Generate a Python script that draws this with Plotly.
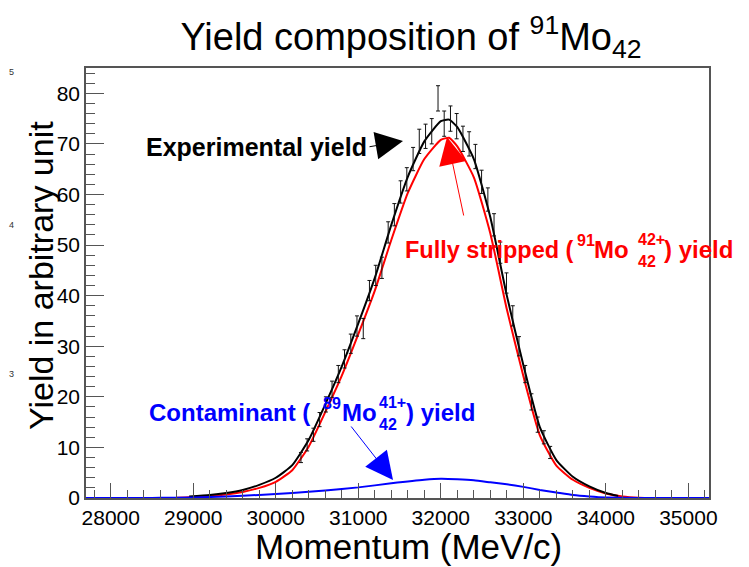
import plotly.graph_objects as go

# ---- measured yield per momentum bin (MeV/c) ----
mom_data = [30305, 30380, 30456, 30531, 30607, 30682, 30758, 30833, 30909, 30984,
            31060, 31135, 31211, 31286, 31362, 31437, 31513, 31588, 31664, 31739,
            31815, 31890, 31966, 32041, 32117, 32192, 32268, 32343, 32419, 32494,
            32570, 32645, 32721, 32796, 32872, 32947, 33023, 33098, 33174, 33249,
            33325]
yield_data = [8.0, 10.5, 12.5, 15.5, 18.5, 21.5, 24.5, 27.5, 30.5, 34.0,
              33.5, 41.0, 44.0, 45.5, 52.5, 56.0, 60.5, 63.0, 67.0, 70.5,
              71.5, 72.5, 79.0, 74.0, 75.0, 73.5, 71.0, 70.0, 67.5, 62.5,
              59.0, 54.0, 48.5, 42.5, 36.0, 30.0, 24.5, 19.0, 14.5, 12.0,
              9.0]
yield_err = [1.0, 1.2, 1.3, 1.4, 1.5, 1.6, 1.7, 1.8, 1.9, 2.0,
             2.0, 2.0, 2.0, 2.1, 2.1, 2.2, 2.2, 2.3, 2.3, 2.4,
             2.4, 2.5, 2.5, 2.5, 2.5, 2.5, 2.5, 2.4, 2.4, 2.3,
             2.3, 2.2, 2.1, 2.0, 2.0, 1.9, 1.7, 1.6, 1.5, 1.3,
             1.2]

# ---- fit: total yield ----
mom_total = [28950, 29200, 29400, 29600, 29800, 30000, 30200, 30400, 30600, 30800,
             31000, 31200, 31400, 31600, 31800, 32000, 32100, 32200, 32400, 32600,
             32800, 33000, 33200, 33400, 33600, 33800, 34000, 34150]
yield_total = [0.3, 0.6, 1.0, 1.6, 2.6, 4.0, 6.5, 11.5, 18.5, 26.0,
               34.5, 43.5, 54.0, 63.5, 70.5, 74.5, 74.8, 73.3, 67.0, 55.5,
               40.0, 26.3, 14.0, 7.5, 4.2, 2.3, 1.0, 0.4]

# ---- fit: fully stripped 91Mo(42+) component ----
mom_stripped = [28400, 28600, 28800, 29000, 29200, 29400, 29600, 29800, 30000, 30200,
                30400, 30600, 30800, 31000, 31200, 31400, 31600, 31800, 32000, 32100,
                32200, 32400, 32600, 32800, 33000, 33200, 33400, 33600, 33800, 34000,
                34200, 34400, 34600, 34800]
yield_stripped = [0.0, 0.0, 0.05, 0.2, 0.4, 0.7, 1.2, 2.0, 3.2, 5.5,
                  10.2, 17.0, 24.2, 32.4, 41.0, 51.0, 60.3, 67.0, 70.8, 71.2,
                  69.5, 63.4, 52.3, 37.3, 24.1, 12.4, 6.4, 3.6, 2.0, 0.9,
                  0.3, 0.05, 0.0, 0.0]

# ---- fit: contaminant 89Mo(41+) component ----
mom_contam = [27700, 28400, 28600, 29000, 29400, 29800, 30200, 30600, 31000, 31400,
              31800, 32000, 32200, 32400, 32600, 32800, 33000, 33200, 33400, 33600,
              33800, 34000, 34400, 35250]
yield_contam = [0.0, 0.0, 0.05, 0.1, 0.3, 0.6, 1.0, 1.5, 2.1, 2.9,
                3.6, 3.8, 3.7, 3.5, 3.1, 2.7, 2.2, 1.6, 1.1, 0.6,
                0.3, 0.1, 0.0, 0.0]

X_RANGE = [27700, 35250]
Y_RANGE = [0, 85]

# plot frame in page pixels
L, R, T, B = 86, 709, 68, 498
W, H = 749, 567
FONT = "Liberation Sans, Arial, Helvetica, sans-serif"
FRAME = "#555555"


def px_x(px):
    return X_RANGE[0] + (px - L) * (X_RANGE[1] - X_RANGE[0]) / (R - L)


def px_y(py):
    return (B - py) * (Y_RANGE[1] - Y_RANGE[0]) / (B - T)


def paper_x(px):
    return (px - L) / (R - L)


def paper_y(py):
    return (B - py) / (B - T)


fig = go.Figure()

fig.add_trace(go.Scatter(x=mom_stripped, y=yield_stripped, mode="lines",
                         line=dict(color="#ff0000", width=2, shape="spline", smoothing=0.5),
                         hoverinfo="skip"))
fig.add_trace(go.Scatter(x=mom_total, y=yield_total, mode="lines",
                         line=dict(color="#000000", width=2, shape="spline", smoothing=0.5),
                         hoverinfo="skip"))
fig.add_trace(go.Scatter(x=mom_contam, y=yield_contam, mode="lines",
                         line=dict(color="#0000ff", width=2, shape="spline", smoothing=0.5),
                         hoverinfo="skip"))
fig.add_trace(go.Scatter(x=mom_data, y=yield_data, mode="markers",
                         marker=dict(size=1, color="rgba(0,0,0,0)"),
                         error_y=dict(type="data", array=yield_err, color="#111111",
                                      thickness=1, width=2)))

ann = []


def text(px, py, s, size, color, bold=False):
    ann.append(dict(xref="paper", yref="paper", x=paper_x(px), y=paper_y(py),
                    xanchor="left", yanchor="middle", showarrow=False,
                    text=f"<b>{s}</b>" if bold else s,
                    font=dict(family=FONT, size=size, color=color)))


def arrow(tail, tip, color):
    ann.append(dict(xref="x", yref="y", axref="x", ayref="y",
                    x=px_x(tip[0]), y=px_y(tip[1]),
                    ax=px_x(tail[0]), ay=px_y(tail[1]),
                    text="", showarrow=True, arrowhead=2, arrowsize=5.5,
                    arrowwidth=1, arrowcolor=color))


# experimental label
text(144, 147, "Experimental yield", 25, "black", bold=True)
arrow((368, 147), (403, 141), "black")

# fully stripped label
RED = "#ff0000"
text(403, 250, "Fully stripped (", 23.5, RED, True)
text(575, 240, "91", 16, RED, True)
text(592, 250, "Mo", 24, RED, True)
text(636, 239, "42+", 16, RED, True)
text(636, 261, "42", 16, RED, True)
text(662, 250, ") yield", 24, RED, True)
arrow((464, 217), (447, 137), RED)

# contaminant label
BLUE = "#0000ff"
text(147, 412, "Contaminant (", 24, BLUE, True)
text(321, 403, "89", 16, BLUE, True)
text(340, 412, "Mo", 24, BLUE, True)
text(377, 402, "41+", 16, BLUE, True)
text(377, 424, "42", 16, BLUE, True)
text(404, 412, ") yield", 24, BLUE, True)
arrow((350, 425), (393, 480), BLUE)

# axis titles
ann.append(dict(xref="paper", yref="paper", x=paper_x(564), y=paper_y(546),
                xanchor="right", yanchor="middle", showarrow=False,
                text="Momentum (MeV/c)", font=dict(family=FONT, size=35, color="black")))
ann.append(dict(xref="paper", yref="paper", x=paper_x(41), y=paper_y(276),
                xanchor="center", yanchor="middle", showarrow=False, textangle=-90,
                text="Yield in arbitrary unit", font=dict(family=FONT, size=34, color="black")))

# small marks at the left edge
for py, s in [(72, "5"), (225, "4"), (374, "3")]:
    ann.append(dict(xref="paper", yref="paper", x=paper_x(11), y=paper_y(py),
                    xanchor="center", yanchor="middle", showarrow=False,
                    text=s, font=dict(family=FONT, size=9, color="#333333")))

fig.update_layout(
    width=W, height=H,
    margin=dict(l=L, r=W - R, t=T, b=H - B),
    paper_bgcolor="white", plot_bgcolor="white",
    showlegend=False,
    font=dict(family=FONT, color="black"),
    title=dict(text="Yield composition of <sup>91</sup>Mo<sub>42</sub>",
               xref="container", yref="container",
               x=411 / W, y=1 - 37 / H, xanchor="center", yanchor="middle",
               font=dict(family=FONT, size=38, color="black")),
    annotations=ann,
)

axis_common = dict(showline=True, linecolor=FRAME, linewidth=1.5, mirror=True,
                   showgrid=False, zeroline=False, ticks="inside", tickcolor=FRAME,
                   tickwidth=1, tickfont=dict(family=FONT, size=21, color="black"))

fig.update_xaxes(range=X_RANGE, tick0=0, dtick=1000, ticklen=15, tickformat="d",
                 minor=dict(ticks="inside", ticklen=8, dtick=200, tick0=0,
                            tickcolor=FRAME, showgrid=False),
                 **axis_common)
fig.update_yaxes(range=Y_RANGE, tick0=0, dtick=10, ticklen=18, tickformat="d",
                 minor=dict(ticks="inside", ticklen=9, dtick=2, tick0=0,
                            tickcolor=FRAME, showgrid=False),
                 **axis_common)

fig.write_html("out.html")
